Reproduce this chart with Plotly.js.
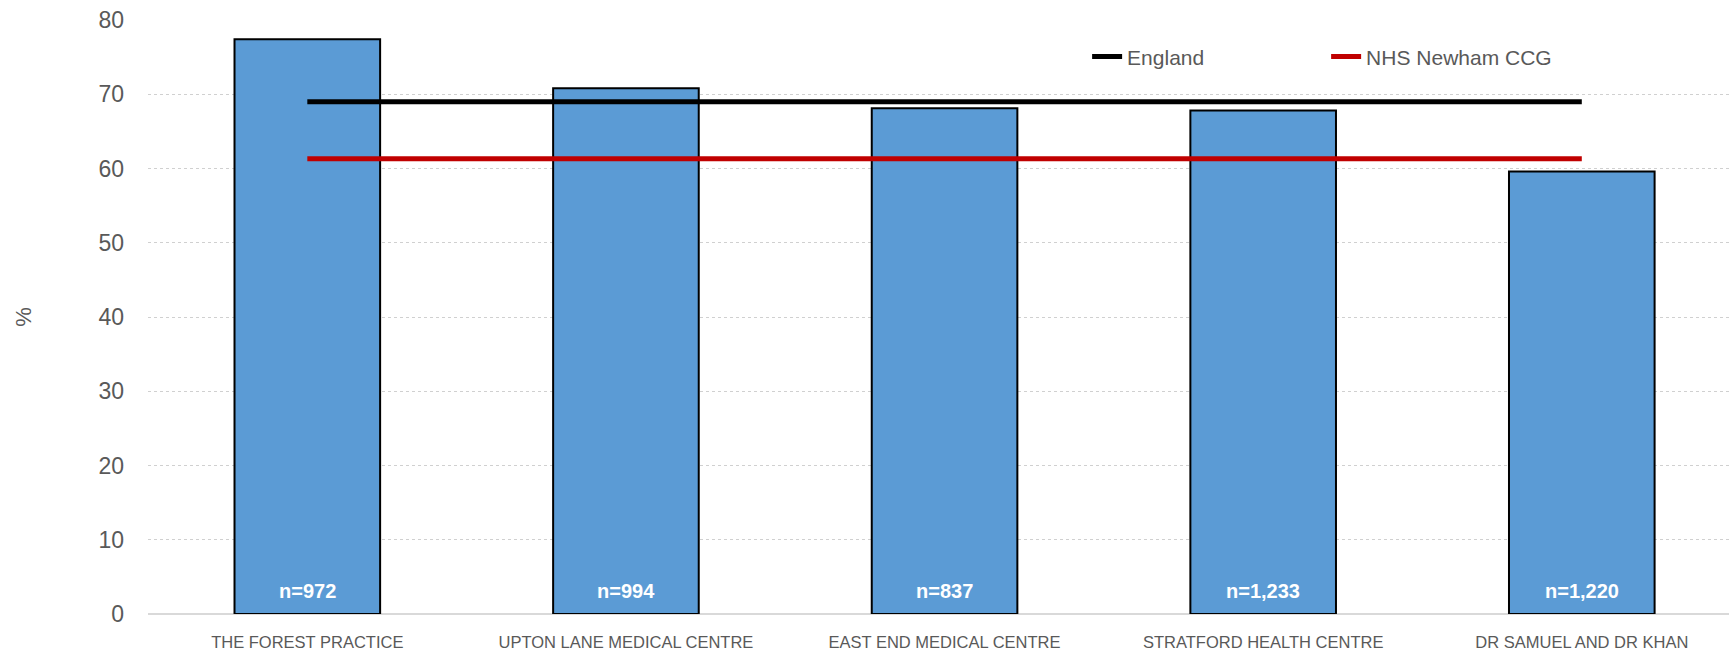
<!DOCTYPE html>
<html>
<head>
<meta charset="utf-8">
<script src="https://cdn.plot.ly/plotly-3.0.1.min.js"></script>
<style>html,body{margin:0;padding:0;background:#fff;}#chart{width:1729px;height:654px;}</style>
</head>
<body>
<div id="chart"></div>
<script>
const practices = ["THE FOREST PRACTICE", "UPTON LANE MEDICAL CENTRE", "EAST END MEDICAL CENTRE", "STRATFORD HEALTH CENTRE", "DR SAMUEL AND DR KHAN"];
const practiceValues = [77.4, 70.8, 68.1, 67.8, 59.6];
const sampleLabels = ["n=972", "n=994", "n=837", "n=1,233", "n=1,220"];
const englandValues = [69.0, 69.0, 69.0, 69.0, 69.0];
const newhamValues = [61.3, 61.3, 61.3, 61.3, 61.3];
const yTicks = [0, 10, 20, 30, 40, 50, 60, 70, 80];

const sans = "'Liberation Sans', Arial, sans-serif";

const traces = [
  {
    type: "bar", x: practices, y: practiceValues, name: "Practice",
    marker: {color: "#5B9BD5", line: {color: "#000000", width: 2}},
    showlegend: false, hoverinfo: "x+y"
  },
  {
    type: "scatter", mode: "lines", x: practices, y: englandValues, name: "England",
    line: {color: "#000000", width: 5}
  },
  {
    type: "scatter", mode: "lines", x: practices, y: newhamValues, name: "NHS Newham CCG",
    line: {color: "#C00000", width: 5}
  }
];

const annotations = practices.map((p, i) => ({
  x: p, y: 0, xref: "x", yref: "y", yanchor: "bottom", yshift: 10,
  text: "<b>" + sampleLabels[i] + "</b>", showarrow: false,
  font: {family: sans, size: 20, color: "#ffffff"}
}));

const layout = {
  width: 1729, height: 654,
  margin: {l: 148, r: 0, t: 20, b: 40},
  paper_bgcolor: "#ffffff", plot_bgcolor: "#ffffff",
  bargap: 0.543,
  showlegend: true,
  legend: {
    orientation: "h", x: 0.594, y: 0.938, xanchor: "left", yanchor: "middle",
    entrywidth: 194, entrywidthmode: "pixels",
    font: {family: sans, size: 21, color: "#595959"},
    bgcolor: "rgba(0,0,0,0)", traceorder: "normal"
  },
  xaxis: {
    type: "category", range: [-0.5, 4.462],
    showgrid: false, showline: false, zeroline: false,
    ticks: "", ticklabelstandoff: 16,
    tickfont: {family: sans, size: 16.5, color: "#595959"},
    automargin: false, fixedrange: true
  },
  yaxis: {
    range: [0, 80], tickvals: yTicks, ticktext: yTicks.map(String),
    showgrid: true, gridcolor: "#D0D0D0", griddash: "dot", gridwidth: 1,
    zeroline: true, zerolinecolor: "#D9D9D9", zerolinewidth: 2,
    showline: false, ticks: "", ticklabelstandoff: 23,
    tickfont: {family: sans, size: 23, color: "#595959"},
    title: {text: "%", font: {family: sans, size: 22, color: "#595959"}, standoff: 60},
    automargin: false, fixedrange: true
  },
  annotations: annotations
};

Plotly.newPlot("chart", traces, layout, {displayModeBar: false, staticPlot: true});
</script>
</body>
</html>
